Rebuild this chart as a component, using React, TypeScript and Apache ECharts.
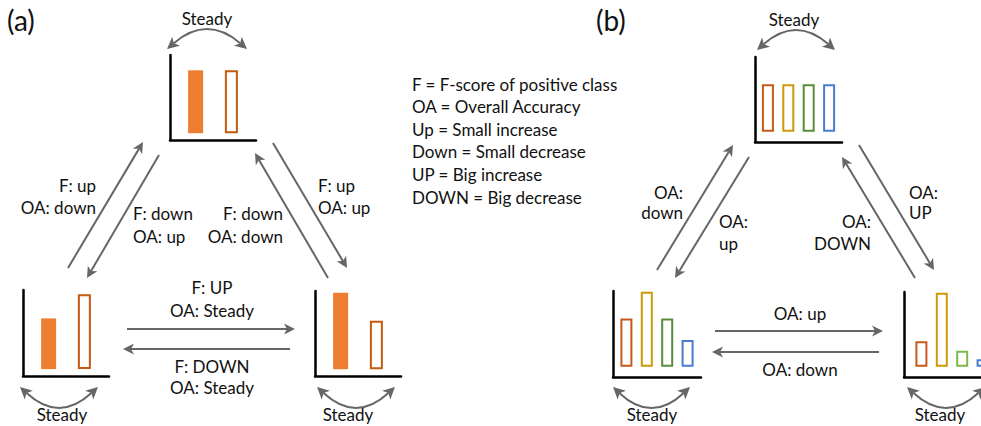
import React, { useEffect, useRef } from 'react';
import * as echarts from 'echarts';

// Panel (a): filled bar = F-score of positive class, outlined bar = overall accuracy
const aSeriesNames = ['F', 'OA'];
const aTopValues = [74, 74];
const aLeftValues = [59, 87];
const aRightValues = [90, 57];

// Panel (b): one outlined bar per class
const bSeriesNames = ['Class 1', 'Class 2', 'Class 3', 'Class 4'];
const bTopValues = [56, 56, 56, 56];
const bLeftValues = [56, 87, 56, 31];
const bRightValues = [30, 87, 19, 9];

const legendLines = [
  'F = F-score of positive class',
  'OA = Overall Accuracy',
  'Up = Small increase',
  'Down = Small decrease',
  'UP = Big increase',
  'DOWN = Big decrease',
];

const FONT = 'Lato, "Open Sans", sans-serif';
const FS = 17;
const ARROW = '#666666';
const TEXT = '#111111';
const F_FILL = '#ED7D31';
const OA_LINE = '#C55A11';
const CLASS_LINES = ['#C8591A', '#CC9A06', '#5A8C3A', '#4A7BD2'];
const CLASS_LINES_LIGHT = ['#C8591A', '#CC9A06', '#7CB94A', '#4A7BD2'];

type Frame = { left: number; top: number; width: number; height: number; min: number; max: number };

const aFrames: { frame: Frame; values: number[] }[] = [
  { frame: { left: 170, top: 55, width: 86, height: 85, min: -8, max: 92 }, values: aTopValues },
  { frame: { left: 23, top: 290, width: 86, height: 86, min: -8, max: 92 }, values: aLeftValues },
  { frame: { left: 315, top: 291, width: 86, height: 85, min: -8, max: 92 }, values: aRightValues },
];

const bFrames: { frame: Frame; values: number[]; colors: string[] }[] = [
  { frame: { left: 755, top: 57, width: 87, height: 85, min: -12, max: 88 }, values: bTopValues, colors: CLASS_LINES },
  { frame: { left: 613, top: 291, width: 88, height: 86, min: -12, max: 88 }, values: bLeftValues, colors: CLASS_LINES },
  { frame: { left: 904, top: 292, width: 96, height: 85, min: -12, max: 88 }, values: bRightValues, colors: CLASS_LINES_LIGHT },
];

function arrowHead(tipX: number, tipY: number, dx: number, dy: number, size = 11) {
  const len = Math.hypot(dx, dy) || 1;
  const ux = dx / len;
  const uy = dy / len;
  const nx = -uy;
  const ny = ux;
  const half = size * 0.5;
  const bx = tipX - ux * size;
  const by = tipY - uy * size;
  const notchX = tipX - ux * (size - 3);
  const notchY = tipY - uy * (size - 3);
  return {
    poly: {
      type: 'polygon',
      shape: {
        points: [
          [tipX, tipY],
          [bx + nx * half, by + ny * half],
          [notchX, notchY],
          [bx - nx * half, by - ny * half],
        ],
      },
      style: { fill: ARROW },
      z: 10,
    },
    notch: [notchX, notchY],
  };
}

function straightArrow(x1: number, y1: number, x2: number, y2: number) {
  const head = arrowHead(x2, y2, x2 - x1, y2 - y1);
  return [
    {
      type: 'line',
      shape: { x1, y1, x2: head.notch[0], y2: head.notch[1] },
      style: { stroke: ARROW, lineWidth: 2 },
      z: 10,
    },
    head.poly,
  ];
}

// Two-headed curved "Steady" arrow: quadratic curve between the two tips
function steadyArc(x1: number, x2: number, y: number, bend: number) {
  const cx = (x1 + x2) / 2;
  const cy = y + bend * 2;
  const h1 = arrowHead(x1, y, x1 - cx, y - cy, 12);
  const h2 = arrowHead(x2, y, x2 - cx, y - cy, 12);
  return [
    {
      type: 'bezierCurve',
      shape: { x1: h1.notch[0], y1: h1.notch[1], x2: h2.notch[0], y2: h2.notch[1], cpx1: cx, cpy1: cy },
      style: { stroke: ARROW, lineWidth: 2, fill: 'none' },
      z: 10,
    },
    h1.poly,
    h2.poly,
  ];
}

function label(text: string, x: number, y: number, align: 'left' | 'right' | 'center', size = FS) {
  return {
    type: 'text',
    x,
    y,
    z: 20,
    style: {
      text,
      fill: TEXT,
      fontSize: size,
      fontFamily: FONT,
      align,
      verticalAlign: 'middle',
      textAlign: align,
      textVerticalAlign: 'middle',
    },
  };
}

function buildOption() {
  const grid: any[] = [];
  const xAxis: any[] = [];
  const yAxis: any[] = [];
  const series: any[] = [];

  const addFrame = (f: Frame) => {
    const idx = grid.length;
    grid.push({
      left: f.left,
      top: f.top,
      width: f.width,
      height: f.height,
      containLabel: false,
      outerBoundsMode: 'none',
    });
    const axisLine = { show: true, onZero: false, lineStyle: { color: '#000', width: 2.5 } };
    xAxis.push({
      type: 'category',
      gridIndex: idx,
      data: ['value'],
      axisLine,
      axisTick: { show: false },
      axisLabel: { show: false },
      splitLine: { show: false },
    });
    yAxis.push({
      type: 'value',
      gridIndex: idx,
      min: f.min,
      max: f.max,
      axisLine,
      axisTick: { show: false },
      axisLabel: { show: false },
      splitLine: { show: false },
    });
    return idx;
  };

  aFrames.forEach(({ frame, values }) => {
    const idx = addFrame(frame);
    aSeriesNames.forEach((name, i) => {
      series.push({
        type: 'bar',
        name,
        xAxisIndex: idx,
        yAxisIndex: idx,
        data: [values[i]],
        barWidth: i === 0 ? 15 : 13,
        barGap: '145%',
        itemStyle:
          i === 0
            ? { color: F_FILL }
            : { color: '#ffffff', borderColor: OA_LINE, borderWidth: 2 },
      });
    });
  });

  bFrames.forEach(({ frame, values, colors }) => {
    const idx = addFrame(frame);
    bSeriesNames.forEach((name, i) => {
      series.push({
        type: 'bar',
        name,
        xAxisIndex: idx,
        yAxisIndex: idx,
        data: [values[i]],
        barWidth: 12,
        barGap: '70%',
        itemStyle: { color: '#ffffff', borderColor: colors[i], borderWidth: 2 },
      });
    });
  });

  const graphics: any[] = [];
  const push = (items: any[]) => items.forEach((g) => graphics.push(g));

  // Panel titles
  graphics.push(label('(a)', 7, 20, 'left', 28));
  graphics.push(label('(b)', 596, 20, 'left', 28));

  // Panel (a) transitions
  push(straightArrow(68, 268, 143, 142));
  push(straightArrow(159, 155, 87, 278));
  push(straightArrow(328, 278, 255, 153));
  push(straightArrow(273, 143, 347, 268));
  push(straightArrow(127, 329, 295, 329));
  push(straightArrow(290, 349, 123, 349));

  push(steadyArc(167, 247, 49, -17));
  push(steadyArc(20, 98, 387, 18));
  push(steadyArc(317, 395, 387, 18));

  graphics.push(label('Steady', 207, 18, 'center'));
  graphics.push(label('Steady', 62, 414, 'center'));
  graphics.push(label('Steady', 348, 414, 'center'));

  graphics.push(label('F: up', 96, 185, 'right'));
  graphics.push(label('OA: down', 96, 207, 'right'));
  graphics.push(label('F: down', 133, 213, 'left'));
  graphics.push(label('OA: up', 133, 236, 'left'));
  graphics.push(label('F: down', 283, 213, 'right'));
  graphics.push(label('OA: down', 283, 236, 'right'));
  graphics.push(label('F: up', 318, 185, 'left'));
  graphics.push(label('OA: up', 318, 207, 'left'));
  graphics.push(label('F: UP', 212, 287, 'center'));
  graphics.push(label('OA: Steady', 212, 310, 'center'));
  graphics.push(label('F: DOWN', 212, 366, 'center'));
  graphics.push(label('OA: Steady', 212, 387, 'center'));

  // Abbreviation key
  legendLines.forEach((t, i) => graphics.push(label(t, 412, 84 + i * 22.6, 'left')));

  // Panel (b) transitions
  push(straightArrow(657, 270, 733, 145));
  push(straightArrow(749, 157, 675, 278));
  push(straightArrow(915, 278, 842, 157));
  push(straightArrow(859, 145, 934, 270));
  push(straightArrow(715, 331, 883, 331));
  push(straightArrow(879, 352, 712, 352));

  push(steadyArc(757, 835, 50, -17));
  push(steadyArc(613, 690, 387, 18));
  push(steadyArc(907, 985, 387, 18));

  graphics.push(label('Steady', 794, 19, 'center'));
  graphics.push(label('Steady', 652, 414, 'center'));
  graphics.push(label('Steady', 940, 414, 'center'));

  graphics.push(label('OA:', 683, 192, 'right'));
  graphics.push(label('down', 683, 212, 'right'));
  graphics.push(label('OA:', 719, 221, 'left'));
  graphics.push(label('up', 719, 243, 'left'));
  graphics.push(label('OA:', 871, 221, 'right'));
  graphics.push(label('DOWN', 871, 243, 'right'));
  graphics.push(label('OA:', 909, 192, 'left'));
  graphics.push(label('UP', 909, 212, 'left'));
  graphics.push(label('OA: up', 800, 313, 'center'));
  graphics.push(label('OA: down', 800, 369, 'center'));

  return {
    animation: false,
    backgroundColor: '#ffffff',
    grid,
    xAxis,
    yAxis,
    series,
    graphic: { elements: graphics },
  };
}

export default function App() {
  const ref = useRef<HTMLDivElement>(null);

  useEffect(() => {
    document.body.style.margin = '0';
    if (!ref.current) return;
    const chart = echarts.init(ref.current, undefined, { renderer: 'svg' });
    chart.setOption(buildOption());
    return () => chart.dispose();
  }, []);

  return <div ref={ref} style={{ width: 981, height: 426 }} />;
}
